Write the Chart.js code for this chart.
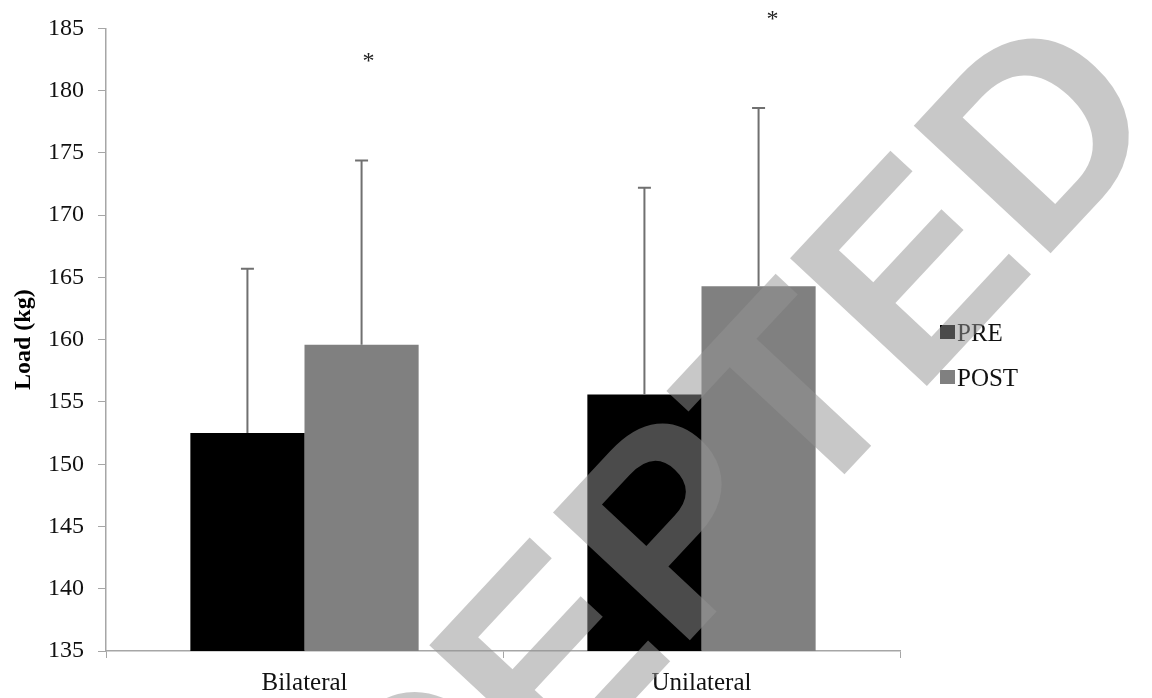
<!DOCTYPE html>
<html>
<head>
<meta charset="utf-8">
<script src="https://cdn.jsdelivr.net/npm/chart.js@4/dist/chart.umd.min.js"></script>
<style>
  html, body { margin: 0; padding: 0; background: #ffffff; }
  #wrap { width: 1152px; height: 698px; position: relative; }
</style>
</head>
<body>
<div id="wrap"><canvas id="loadChart"></canvas></div>
<script>
/* Load (kg) PRE vs POST, bilateral and unilateral */
const categories = ['Bilateral', 'Unilateral'];
const seriesNames = ['PRE', 'POST'];
const preMeans = [152.5, 155.6];
const preSD = [13.2, 16.6];
const postMeans = [159.6, 164.3];
const postSD = [14.8, 14.3];
const starLevels = [182.2, 185.5];   // where the * marks sit (kg)
const yTickValues = [135, 140, 145, 150, 155, 160, 165, 170, 175, 180, 185];

const SERIF = "'Liberation Serif', 'Times New Roman', serif";
const AXIS_GREY = '#a6a6a6';

Chart.defaults.font.family = SERIF;
Chart.defaults.color = '#000000';

/* error bars, only the upper half */
const errorBars = {
    id: 'errorBars',
    afterDatasetsDraw(chart) {
        const ctx = chart.ctx;
        const y = chart.scales.y;
        const sds = [preSD, postSD];
        ctx.save();
        ctx.strokeStyle = '#707070';
        ctx.lineWidth = 2;
        chart.data.datasets.forEach((ds, i) => {
            chart.getDatasetMeta(i).data.forEach((bar, j) => {
                const top = y.getPixelForValue(ds.data[j] + sds[i][j]);
                ctx.beginPath();
                ctx.moveTo(bar.x, bar.y);
                ctx.lineTo(bar.x, top);
                ctx.moveTo(bar.x - 6.5, top);
                ctx.lineTo(bar.x + 6.5, top);
                ctx.stroke();
            });
        });
        ctx.restore();
    }
};

/* asterisks, legend and the ACCEPTED watermark */
const starShift = [7, 14];
const extras = {
    id: 'extras',
    afterDraw(chart) {
        const ctx = chart.ctx;
        const y = chart.scales.y;
        ctx.save();

        ctx.fillStyle = '#222222';
        ctx.font = '24px ' + SERIF;
        ctx.textAlign = 'center';
        ctx.textBaseline = 'middle';
        chart.getDatasetMeta(1).data.forEach((bar, j) => {
            ctx.fillText('*', bar.x + starShift[j], y.getPixelForValue(starLevels[j]) - 2);
        });

        ctx.textAlign = 'left';
        ctx.textBaseline = 'alphabetic';
        ctx.font = '25px ' + SERIF;
        chart.data.datasets.forEach((ds, i) => {
            const ly = 341 + i * 45;
            ctx.fillStyle = ds.backgroundColor;
            ctx.fillRect(940, ly - 16, 15, 14);
            ctx.fillStyle = '#111111';
            ctx.fillText(ds.label, 957, ly);
        });

        ctx.translate(662, 670);
        ctx.rotate(-47 * Math.PI / 180);
        ctx.font = "bold 272px 'Liberation Sans', Arial, sans-serif";
        ctx.textAlign = 'center';
        ctx.fillStyle = 'rgba(148, 148, 148, 0.51)';
        ctx.fillText('ACCEPTED', 0, 0);
        ctx.restore();
    }
};

const ctx = document.getElementById('loadChart').getContext('2d');

new Chart(ctx, {
    type: 'bar',
    data: {
        labels: categories,
        datasets: [
            {
                label: seriesNames[0],
                data: preMeans,
                backgroundColor: '#000000',
                borderWidth: 0,
            },
            {
                label: seriesNames[1],
                data: postMeans,
                backgroundColor: '#808080',
                borderWidth: 0,
            }
        ]
    },
    options: {
        responsive: true,
        maintainAspectRatio: false,
        animation: false,
        devicePixelRatio: 1,
        layout: { padding: { left: 0, top: 23, right: 252, bottom: 0 } },
        datasets: { bar: { barPercentage: 1, categoryPercentage: 0.575 } },
        plugins: {
            legend: { display: false },
            tooltip: { enabled: false }
        },
        scales: {
            x: {
                grid: {
                    drawOnChartArea: false,
                    color: AXIS_GREY,
                    tickLength: 7,
                    offset: true
                },
                border: { color: AXIS_GREY, width: 1.5 },
                ticks: { font: { size: 25 }, padding: 10, color: '#111111' },
                afterFit(scale) { scale.height = 47; }
            },
            y: {
                min: 135,
                max: 185,
                afterBuildTicks(scale) {
                    scale.ticks = yTickValues.map(v => ({ value: v }));
                },
                grid: {
                    drawOnChartArea: false,
                    color: AXIS_GREY,
                    tickLength: 8
                },
                border: { color: AXIS_GREY, width: 1.5 },
                ticks: { font: { size: 24 }, padding: 14, color: '#111111' },
                title: {
                    display: true,
                    text: 'Load (kg)',
                    font: { size: 24, weight: 'bold' },
                    padding: { top: 9, bottom: 0 }
                },
                afterFit(scale) { scale.width = 106; }
            }
        }
    },
    plugins: [errorBars, extras]
});
</script>
</body>
</html>
